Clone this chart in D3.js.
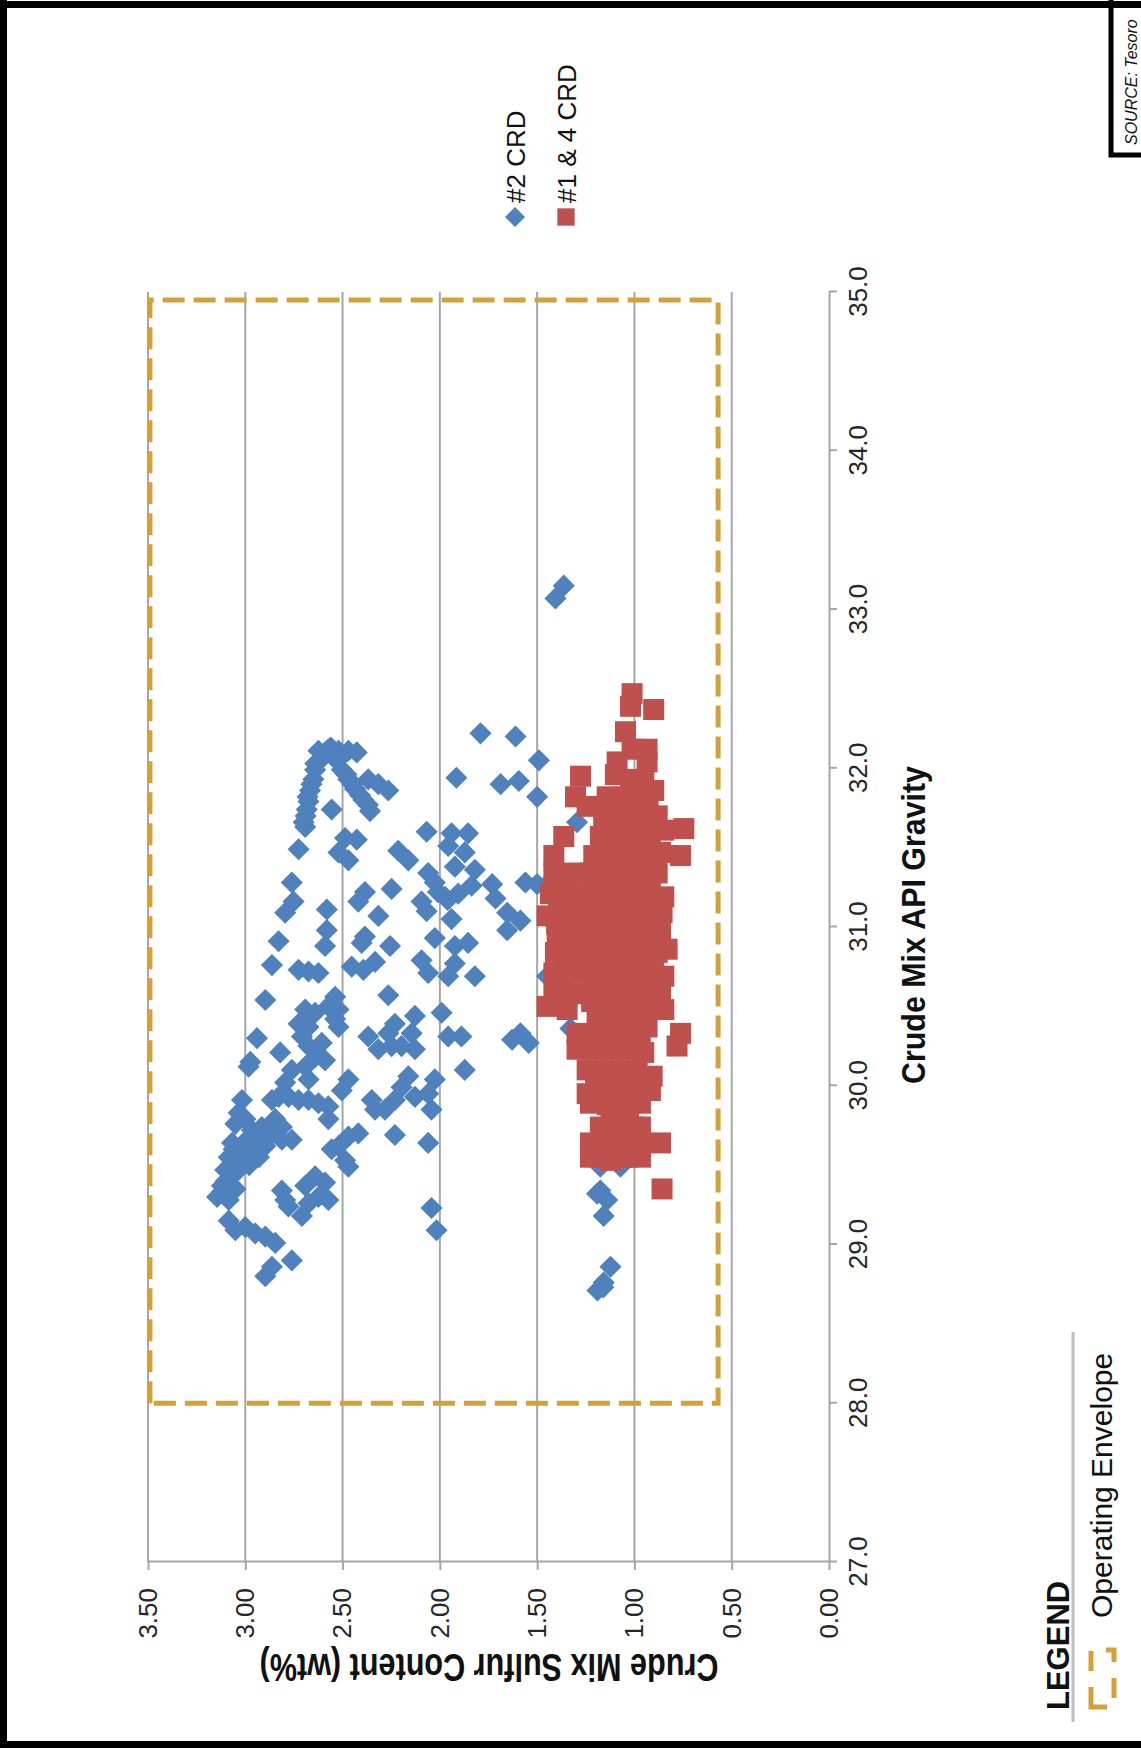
<!DOCTYPE html>
<html>
<head>
<meta charset="utf-8">
<script src="https://cdn.jsdelivr.net/npm/d3@7"></script>
<style>
  body { margin: 0; background: #fff; }
  svg { display: block; }
</style>
</head>
<body>
<svg id="chart"></svg>
<script>
// [sulfur wt%, API gravity]
const crd2Points = [
  [2.624,32.11],[2.573,32.12],[2.521,32.11],[2.470,32.11],[2.427,32.10],[2.607,32.06],[2.547,32.07],
  [2.641,31.99],[2.650,31.93],[2.667,31.86],[2.675,31.79],[2.684,31.74],[2.692,31.63],[2.726,31.49],
  [2.504,31.99],[2.470,31.93],[2.436,31.87],[2.393,31.80],[2.359,31.73],[2.368,31.93],[2.316,31.90],
  [2.265,31.86],[2.556,31.74],[2.487,31.56],[2.427,31.55],[2.521,31.47],[2.470,31.42],[2.761,31.28],
  [2.752,31.16],[2.795,31.09],[2.581,31.11],[2.581,30.98],[2.590,30.88],[2.829,30.91],[2.863,30.76],
  [2.726,30.73],[2.675,30.72],[2.624,30.71],[2.897,30.54],[2.538,30.56],[2.385,31.22],[2.419,31.16],
  [2.316,31.07],[2.385,30.94],[2.402,30.90],[2.248,31.24],[2.256,30.88],[2.453,30.75],[2.393,30.73],
  [2.333,30.78],[2.265,30.57],[2.214,31.48],[2.162,31.42],[2.068,31.60],[2.060,31.34],[2.026,31.28],
  [2.094,31.16],[2.068,31.10],[2.026,30.93],[2.094,30.79],[2.060,30.71],[1.915,31.94],[1.940,31.59],
  [1.855,31.59],[1.957,31.51],[1.872,31.47],[1.923,31.38],[1.820,31.36],[1.974,31.19],[1.906,31.21],
  [1.837,31.26],[1.940,31.05],[1.923,30.88],[1.855,30.90],[1.923,30.77],[1.820,30.69],[1.957,30.69],
  [2.59,32.10],[2.50,32.08],[2.64,32.03],[2.56,32.13],[2.66,31.90],[2.68,31.82],[2.69,31.70],
  [2.70,31.66],[2.48,31.96],[2.45,31.90],[2.41,31.83],[2.37,31.77],[2.01,31.22],[1.96,31.17],
  [2.692,30.48],[2.641,30.46],[2.573,30.50],[2.521,30.48],[2.538,30.42],[2.726,30.39],[2.675,30.37],
  [2.521,30.37],[2.709,30.31],[2.675,30.25],[2.607,30.27],[2.641,30.18],[2.590,30.16],[2.692,30.12],
  [2.675,30.04],[2.940,30.30],[2.974,30.15],[2.983,30.12],[2.821,30.21],[2.761,30.10],[2.795,30.02],
  [2.829,29.93],[2.863,29.91],[2.778,29.93],[2.726,29.91],[2.675,29.91],[2.624,29.89],[2.573,29.87],
  [2.573,29.79],[3.017,29.91],[3.034,29.83],[3.051,29.76],[3.000,29.79],[2.966,29.72],[2.915,29.74],
  [2.863,29.70],[2.812,29.66],[2.761,29.66],[2.897,29.62],[2.949,29.58],[3.000,29.53],[3.068,29.64],
  [3.085,29.55],[3.103,29.47],[3.051,29.45],[3.120,29.37],[3.145,29.30],[3.085,29.28],[2.812,29.74],
  [2.846,29.79],[2.521,29.62],[2.470,29.68],[2.419,29.70],[2.556,29.60],[2.487,29.53],[2.470,29.49],
  [2.641,29.43],[2.590,29.39],[2.692,29.37],[2.573,29.28],[2.624,29.30],[2.675,29.26],[2.709,29.18],
  [2.812,29.34],[2.795,29.28],[2.778,29.24],[3.085,29.15],[3.051,29.09],[3.000,29.11],[2.949,29.07],
  [2.897,29.05],[2.846,29.01],[2.863,28.86],[2.897,28.80],[2.761,28.90],
  [3.10,29.40],[3.07,29.50],[3.03,29.58],[3.00,29.65],[2.97,29.62],[3.05,29.35],[3.12,29.33],
  [2.95,29.68],[2.90,29.70],[2.93,29.55],[3.06,29.60],[2.98,29.50],
  [2.368,30.31],[2.316,30.23],[2.265,30.33],[2.231,30.39],[2.128,30.44],[2.145,30.33],[2.197,30.25],
  [2.128,30.23],[1.991,30.46],[1.957,30.31],[1.889,30.31],[1.872,30.10],[2.470,30.04],[2.504,29.97],
  [2.350,29.91],[2.333,29.85],[2.282,29.85],[2.231,29.91],[2.197,29.99],[2.162,30.06],[2.128,29.93],
  [2.060,29.95],[2.026,30.04],[2.043,29.85],[2.231,29.69],[2.060,29.64],[2.043,29.23],[2.017,29.09],
  [2.248,30.25],
  [1.791,32.22],[1.611,32.20],[1.491,32.05],[1.688,31.90],[1.594,31.92],[1.500,31.82],[1.295,31.66],
  [1.560,31.28],[1.500,31.27],[1.449,31.27],[1.731,31.27],[1.714,31.18],[1.654,31.09],[1.586,31.04],
  [1.654,30.98],[1.449,30.69],
  [1.629,30.29],[1.586,30.33],[1.543,30.27],[1.329,30.36],[1.175,29.34],[1.192,29.32],[1.140,29.28],
  [1.158,29.18],[1.123,28.86],[1.158,28.76],[1.175,29.49],[1.072,29.49],[1.14,29.57],[0.943,30.53],
  [1.19,28.71],[1.16,28.73],
  [1.363,33.15],[1.406,33.07]
];

const crd14Points = [
  [1.020,32.39],[0.901,32.37],[1.012,32.47],[1.046,32.23],[1.012,32.12],[0.935,32.12],[1.089,32.04],
  [0.935,32.04],[1.277,31.95],[1.098,31.96],[1.020,31.93],[0.952,31.91],[1.303,31.82],[1.243,31.76],
  [1.140,31.82],[1.055,31.82],[0.969,31.84],[0.901,31.86],[1.158,31.70],[1.072,31.70],[0.986,31.72],
  [0.883,31.70],[0.849,31.61],[0.746,31.62],[1.363,31.57],[1.175,31.57],[1.089,31.57],[1.003,31.59],
  [0.918,31.57],[1.414,31.45],[1.209,31.45],[1.123,31.47],[1.038,31.47],[0.952,31.45],[0.866,31.47],
  [0.763,31.45],[1.414,31.34],[1.312,31.34],[1.226,31.34],[1.140,31.34],[1.055,31.34],[0.969,31.34],
  [0.883,31.34],[1.432,31.21],[1.346,31.21],[1.260,31.21],[1.175,31.21],[1.089,31.21],[1.003,31.21],
  [0.918,31.21],[0.849,31.19],[1.449,31.07],[1.363,31.09],[1.277,31.09],[1.192,31.09],[1.106,31.09],
  [1.020,31.09],[0.935,31.09],[0.858,31.09],[1.397,30.96],[1.312,30.96],[1.226,30.96],[1.140,30.96],
  [1.055,30.96],[0.969,30.96],[0.866,30.96],[1.406,30.84],[1.329,30.84],[1.243,30.84],[1.158,30.84],
  [1.072,30.84],[0.986,30.84],[0.883,30.84],[0.832,30.86],[1.414,30.71],[1.329,30.71],[1.243,30.71],
  [1.158,30.71],[1.072,30.71],[0.986,30.71],[0.901,30.71],[0.849,30.69],[1.414,30.58],[1.329,30.58],
  [1.243,30.58],[1.158,30.58],[1.072,30.58],[0.969,30.58],[0.866,30.58],
  [1.449,30.50],[1.346,30.48],[1.192,30.48],[1.106,30.48],[1.020,30.48],[0.935,30.48],[0.849,30.48],
  [1.295,30.33],[1.192,30.35],[1.106,30.35],[1.020,30.35],[0.935,30.37],[0.763,30.33],[0.781,30.25],
  [1.295,30.23],[1.209,30.23],[1.123,30.23],[1.038,30.23],[0.952,30.21],[1.243,30.10],[1.158,30.10],
  [1.072,30.10],[0.986,30.10],[0.909,30.06],[1.243,29.95],[1.158,29.97],[1.072,29.97],[0.986,29.97],
  [0.918,29.97],[1.226,29.89],[1.072,29.89],[0.969,29.89],[1.175,29.74],[1.089,29.74],[1.003,29.74],
  [0.969,29.74],[1.226,29.64],[1.140,29.64],[1.055,29.64],[0.969,29.64],[0.866,29.64],[1.226,29.55],
  [1.123,29.53],[1.038,29.55],[0.969,29.55],[0.858,29.35],
  [1.14,29.88],[1.03,29.82],[1.12,29.80],[1.20,30.04],[1.10,30.03],[1.00,30.04],[1.25,30.29],
  [1.15,30.29],[1.05,30.29],[0.97,30.29],[1.38,30.53],[1.22,30.53],[1.12,30.53],[1.03,30.53],
  [0.92,30.53],[1.37,30.65],[1.20,30.65],[1.10,30.65],[1.02,30.65],[0.92,30.65],[1.36,30.78],
  [1.20,30.78],[1.11,30.78],[1.03,30.78],[0.93,30.78],[1.35,30.90],[1.18,30.90],[1.09,30.90],
  [1.00,30.90],[0.90,30.90],[1.40,31.02],[1.24,31.02],[1.15,31.02],[1.06,31.02],[0.97,31.02],
  [0.89,31.02],[1.39,31.15],[1.22,31.15],[1.13,31.15],[1.04,31.15],[0.96,31.15],[0.88,31.15],
  [1.36,31.28],[1.19,31.28],[1.10,31.28],[1.01,31.28],[0.93,31.28],[1.17,31.40],[1.08,31.40],
  [0.99,31.40],[0.91,31.40],[1.13,31.52],[1.05,31.52],[0.96,31.52],[1.11,31.64],[1.03,31.64],
  [0.94,31.64],[1.10,31.76],[1.01,31.76],[0.93,31.78]
];

const apiTicks = [27, 28, 29, 30, 31, 32, 33, 34, 35];
const sulfurTicks = [0, 0.5, 1.0, 1.5, 2.0, 2.5, 3.0, 3.5];
const envelopeApi = [28.0, 34.95];
const envelopeSulfur = [0.57, 3.49];
const seriesNames = ["#2 CRD", "#1 & 4 CRD"];
const seriesColors = ["#4F81BD", "#C0504D"];
const envelopeColor = "#D4A038";

const W = 1141, H = 1748;
const svg = d3.select("#chart").attr("width", W).attr("height", H);

// the page shows the chart on its side: lay it out landscape, then turn it -90deg
const g = svg.append("g").attr("transform", `translate(0,${H}) rotate(-90)`);

const x = d3.scaleLinear().domain([27, 35]).range([186, 1456]);
const y = d3.scaleLinear().domain([0, 3.5]).range([829, 148]);

const gridColor = "#a6a6a6";
const font = "'Liberation Sans', Arial, sans-serif";

g.selectAll("line.grid")
  .data(sulfurTicks.filter(d => d > 0))
  .join("line")
  .attr("class", "grid")
  .attr("x1", x(27)).attr("x2", x(35))
  .attr("y1", d => y(d)).attr("y2", d => y(d))
  .attr("stroke", gridColor)
  .attr("stroke-width", 2);

const xAxis = g.append("g")
  .attr("transform", `translate(0,${y(0)})`)
  .call(d3.axisBottom(x).tickValues(apiTicks).tickFormat(d3.format(".1f"))
    .tickSize(8).tickSizeOuter(0).tickPadding(12));

const yAxis = g.append("g")
  .attr("transform", `translate(${x(27)},0)`)
  .call(d3.axisLeft(y).tickValues(sulfurTicks).tickFormat(d3.format(".2f"))
    .tickSize(8).tickSizeOuter(0).tickPadding(18));

[xAxis, yAxis].forEach(a => {
  a.select(".domain").attr("stroke", gridColor).attr("stroke-width", 2);
  a.selectAll(".tick line").attr("stroke", gridColor).attr("stroke-width", 2);
  a.selectAll(".tick text")
    .attr("fill", "#262626")
    .style("font-family", font)
    .style("font-size", "26px");
});

g.append("rect")
  .attr("x", x(envelopeApi[0]))
  .attr("y", y(envelopeSulfur[1]))
  .attr("width", x(envelopeApi[1]) - x(envelopeApi[0]))
  .attr("height", y(envelopeSulfur[0]) - y(envelopeSulfur[1]))
  .attr("fill", "none")
  .attr("stroke", envelopeColor)
  .attr("stroke-width", 5)
  .attr("stroke-dasharray", "22,9");

const diamond = d3.symbol(d3.symbolSquare, 245);
const square = d3.symbol(d3.symbolSquare, 441);

g.append("g").selectAll("path")
  .data(crd2Points)
  .join("path")
  .attr("d", diamond)
  .attr("transform", d => `translate(${x(d[1])},${y(d[0])}) rotate(45)`)
  .attr("fill", seriesColors[0]);

g.append("g").selectAll("path")
  .data(crd14Points)
  .join("path")
  .attr("d", square)
  .attr("transform", d => `translate(${x(d[1])},${y(d[0])})`)
  .attr("fill", seriesColors[1]);

// axis titles
g.append("text")
  .attr("x", 823).attr("y", 925)
  .attr("text-anchor", "middle")
  .attr("textLength", 318).attr("lengthAdjust", "spacingAndGlyphs")
  .style("font-family", font).style("font-weight", "bold").style("font-size", "33px")
  .attr("fill", "#111")
  .text("Crude Mix API Gravity");

g.append("text")
  .attr("transform", `translate(94,489) rotate(-90)`)
  .attr("text-anchor", "middle")
  .attr("textLength", 459).attr("lengthAdjust", "spacingAndGlyphs")
  .style("font-family", font).style("font-weight", "bold").style("font-size", "38px")
  .attr("fill", "#111")
  .text("Crude Mix Sulfur Content (wt%)");

// series legend
const legend = g.append("g").selectAll("g")
  .data(seriesNames)
  .join("g")
  .attr("transform", (d, i) => `translate(1531,${515 + i * 51})`);

legend.append("path")
  .attr("d", (d, i) => i === 0 ? d3.symbol(d3.symbolSquare, 200)() : d3.symbol(d3.symbolSquare, 300)())
  .attr("transform", (d, i) => i === 0 ? "rotate(45)" : null)
  .attr("fill", (d, i) => seriesColors[i]);

legend.append("text")
  .attr("x", 14).attr("y", 10)
  .style("font-family", font).style("font-size", "26px")
  .attr("fill", "#111")
  .text(d => d);

// bottom legend block
g.append("text")
  .attr("x", 38).attr("y", 1069)
  .style("font-family", font).style("font-weight", "bold").style("font-size", "31px")
  .attr("fill", "#111")
  .text("LEGEND");

g.append("line")
  .attr("x1", 26).attr("x2", 416)
  .attr("y1", 1073).attr("y2", 1073)
  .attr("stroke", "#bdbdbd").attr("stroke-width", 3);

g.append("rect")
  .attr("x", 41).attr("y", 1091)
  .attr("width", 57).attr("height", 23)
  .attr("fill", "none")
  .attr("stroke", envelopeColor).attr("stroke-width", 5)
  .attr("stroke-dasharray", "20,16");

g.append("text")
  .attr("x", 130).attr("y", 1112)
  .style("font-family", font).style("font-size", "30px")
  .attr("fill", "#111")
  .text("Operating Envelope");

// source tag
g.append("rect")
  .attr("x", 1593).attr("y", 1111)
  .attr("width", 170).attr("height", 40)
  .attr("fill", "#fff")
  .attr("stroke", "#000").attr("stroke-width", 5);

g.append("text")
  .attr("x", 1603).attr("y", 1137)
  .style("font-family", font).style("font-style", "italic").style("font-size", "16px")
  .attr("fill", "#111")
  .text("SOURCE: Tesoro");

// page frame
svg.append("rect").attr("x", 0).attr("y", 1).attr("width", W).attr("height", 7).attr("fill", "#000");
svg.append("rect").attr("x", 0).attr("y", 0).attr("width", 7).attr("height", H).attr("fill", "#000");
svg.append("rect").attr("x", 0).attr("y", H - 7).attr("width", W).attr("height", 7).attr("fill", "#000");
</script>
</body>
</html>
